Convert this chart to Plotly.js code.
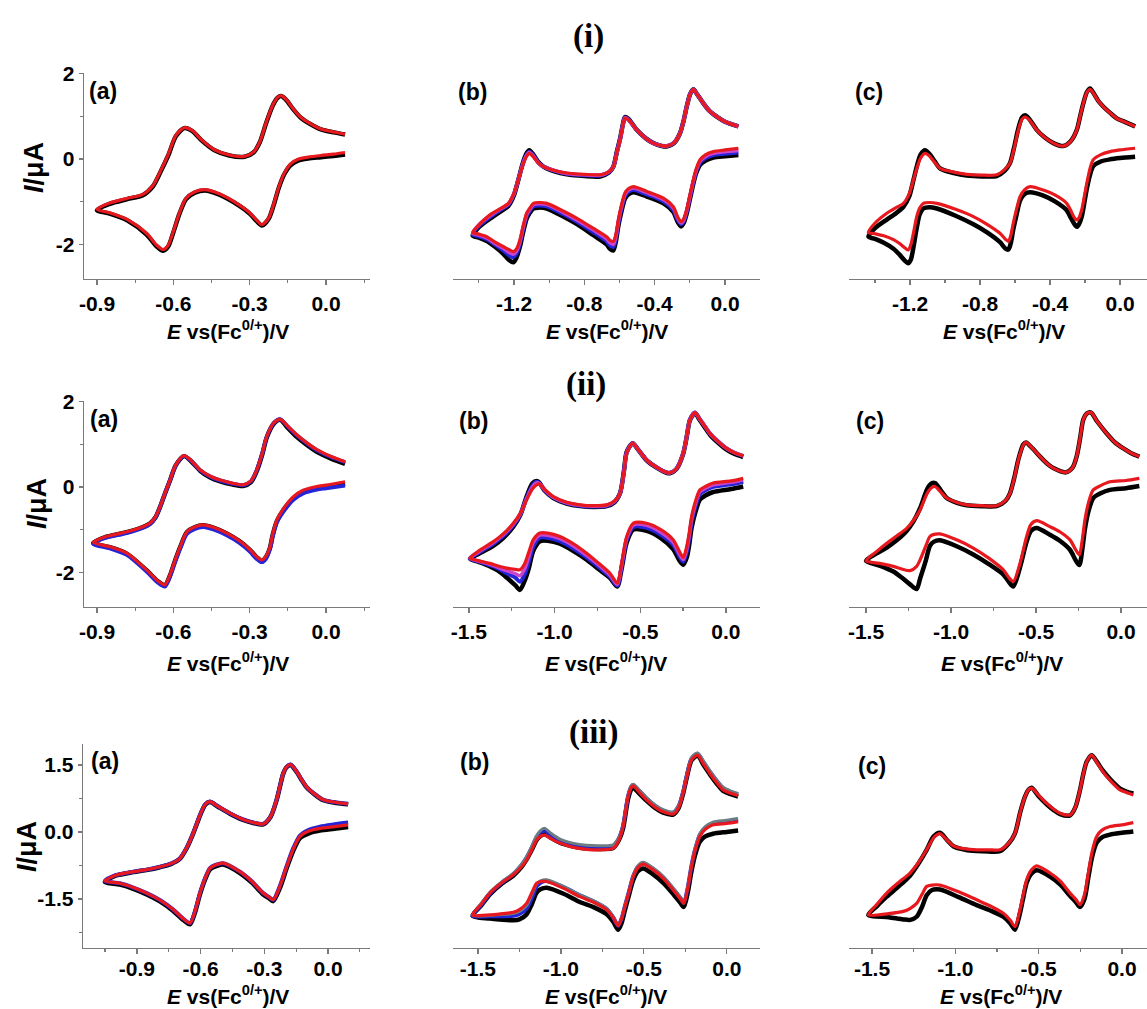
<!DOCTYPE html>
<html><head><meta charset="utf-8">
<script src="https://cdn.plot.ly/plotly-3.0.1.min.js"></script>
<style>html,body{margin:0;padding:0;background:#fff}#chart{width:1147px;height:1009px}</style>
</head><body><div id="chart"></div>
<script>
// ---------------- DATA (E in V vs Fc0/+, I in uA), path: reverse (lower) branch right->left, then forward (upper) branch left->right
// Row (i)
const E_ia = [0.075,0.03,-0.02,-0.07,-0.11,-0.14,-0.165,-0.185,-0.205,-0.225,-0.252,-0.275,-0.30,-0.34,-0.39,-0.44,-0.475,-0.515,-0.55,-0.575,-0.60,-0.62,-0.64,-0.665,-0.705,-0.78,-0.85,-0.90,
  -0.85,-0.78,-0.72,-0.68,-0.65,-0.62,-0.59,-0.557,-0.525,-0.49,-0.44,-0.38,-0.32,-0.285,-0.26,-0.235,-0.21,-0.19,-0.176,-0.155,-0.13,-0.10,-0.06,-0.02,0.03,0.075];
const I_ia_red = [0.15,0.11,0.08,0.04,-0.01,-0.12,-0.35,-0.65,-1.05,-1.38,-1.54,-1.42,-1.26,-1.08,-0.90,-0.77,-0.72,-0.77,-0.92,-1.25,-1.70,-2.02,-2.12,-2.02,-1.74,-1.42,-1.26,-1.18,
  -1.03,-0.92,-0.83,-0.62,-0.28,0.10,0.55,0.73,0.66,0.45,0.22,0.09,0.06,0.16,0.40,0.85,1.25,1.44,1.48,1.38,1.18,0.98,0.82,0.70,0.63,0.58];
const I_ia_black = [0.10,0.07,0.04,0.01,-0.04,-0.15,-0.37,-0.67,-1.07,-1.40,-1.56,-1.44,-1.28,-1.10,-0.92,-0.79,-0.74,-0.79,-0.94,-1.27,-1.72,-2.05,-2.15,-2.05,-1.77,-1.44,-1.28,-1.20,
  -1.05,-0.94,-0.85,-0.64,-0.30,0.08,0.53,0.72,0.65,0.44,0.21,0.08,0.05,0.15,0.39,0.84,1.24,1.43,1.47,1.37,1.17,0.97,0.81,0.69,0.62,0.57];

const E_ib = [0.076,0.0,-0.066,-0.11,-0.142,-0.165,-0.18,-0.20,-0.218,-0.235,-0.25,-0.27,-0.294,-0.35,-0.445,-0.521,-0.55,-0.569,-0.59,-0.607,-0.62,-0.635,-0.655,-0.673,-0.75,-0.825,-0.92,-1.014,-1.06,-1.09,-1.11,-1.128,-1.15,-1.166,-1.185,-1.204,-1.23,-1.261,-1.31,-1.355,-1.40,-1.435,
  -1.40,-1.337,-1.28,-1.232,-1.20,-1.176,-1.15,-1.13,-1.113,-1.09,-1.06,-1.033,-0.97,-0.90,-0.80,-0.71,-0.66,-0.635,-0.615,-0.597,-0.58,-0.569,-0.55,-0.502,-0.45,-0.408,-0.36,-0.331,-0.29,-0.256,-0.235,-0.218,-0.198,-0.18,-0.16,-0.123,-0.09,-0.047,0.0,0.076];
const I_ib_red = [0.25,0.21,0.17,0.10,-0.02,-0.25,-0.49,-0.85,-1.19,-1.40,-1.47,-1.35,-1.12,-0.92,-0.76,-0.65,-0.70,-0.80,-1.10,-1.43,-1.75,-1.93,-1.90,-1.82,-1.62,-1.43,-1.22,-1.04,-1.02,-1.04,-1.15,-1.27,-1.60,-1.89,-2.10,-2.17,-2.12,-2.05,-1.94,-1.82,-1.76,-1.72,
  -1.55,-1.31,-1.17,-1.04,-0.80,-0.49,-0.15,0.05,0.13,0.05,-0.10,-0.18,-0.27,-0.33,-0.36,-0.37,-0.30,-0.18,0.15,0.44,0.80,0.95,0.92,0.68,0.48,0.37,0.31,0.30,0.38,0.60,0.90,1.22,1.52,1.63,1.52,1.30,1.13,0.99,0.87,0.76];
const I_ib_magenta = [0.20,0.17,0.13,0.06,-0.05,-0.28,-0.51,-0.88,-1.21,-1.43,-1.50,-1.38,-1.15,-0.95,-0.79,-0.68,-0.73,-0.83,-1.14,-1.47,-1.80,-2.00,-1.96,-1.87,-1.66,-1.47,-1.25,-1.07,-1.05,-1.07,-1.18,-1.30,-1.64,-1.93,-2.15,-2.23,-2.18,-2.09,-1.97,-1.85,-1.78,-1.74,
  -1.54,-1.33,-1.18,-1.05,-0.81,-0.49,-0.13,0.07,0.15,0.06,-0.10,-0.18,-0.27,-0.34,-0.37,-0.38,-0.30,-0.18,0.15,0.45,0.81,0.96,0.92,0.68,0.48,0.37,0.31,0.30,0.38,0.60,0.90,1.22,1.52,1.63,1.52,1.30,1.13,0.99,0.87,0.76];
const I_ib_blue = [0.15,0.12,0.09,0.02,-0.09,-0.31,-0.54,-0.91,-1.24,-1.46,-1.53,-1.42,-1.19,-0.99,-0.83,-0.72,-0.77,-0.87,-1.18,-1.52,-1.85,-2.06,-2.02,-1.93,-1.71,-1.51,-1.29,-1.11,-1.09,-1.11,-1.21,-1.34,-1.68,-1.98,-2.21,-2.30,-2.25,-2.14,-2.00,-1.88,-1.81,-1.77,
  -1.57,-1.36,-1.20,-1.07,-0.82,-0.49,-0.12,0.09,0.17,0.08,-0.09,-0.18,-0.28,-0.35,-0.38,-0.39,-0.31,-0.18,0.16,0.46,0.82,0.97,0.93,0.68,0.48,0.37,0.31,0.30,0.38,0.60,0.90,1.22,1.52,1.63,1.52,1.30,1.13,0.99,0.87,0.76];
const I_ib_black = [0.09,0.06,0.03,-0.04,-0.14,-0.35,-0.58,-0.95,-1.28,-1.50,-1.58,-1.47,-1.24,-1.04,-0.88,-0.78,-0.83,-0.93,-1.25,-1.58,-1.92,-2.14,-2.10,-2.00,-1.78,-1.57,-1.35,-1.16,-1.14,-1.16,-1.26,-1.40,-1.75,-2.05,-2.30,-2.42,-2.36,-2.22,-2.05,-1.92,-1.84,-1.80,
  -1.60,-1.40,-1.24,-1.10,-0.85,-0.50,-0.10,0.12,0.20,0.10,-0.08,-0.18,-0.29,-0.36,-0.40,-0.41,-0.32,-0.18,0.17,0.47,0.83,0.98,0.94,0.68,0.48,0.37,0.30,0.29,0.37,0.60,0.90,1.22,1.52,1.63,1.52,1.30,1.13,0.99,0.87,0.76];

const E_ic = [0.086,0.0,-0.057,-0.11,-0.153,-0.17,-0.19,-0.205,-0.219,-0.235,-0.247,-0.265,-0.285,-0.305,-0.37,-0.438,-0.514,-0.545,-0.571,-0.59,-0.61,-0.625,-0.638,-0.655,-0.686,-0.76,-0.838,-0.94,-1.047,-1.09,-1.124,-1.145,-1.162,-1.18,-1.195,-1.21,-1.23,-1.26,-1.295,-1.35,-1.40,-1.438,
  -1.40,-1.333,-1.28,-1.238,-1.205,-1.181,-1.16,-1.14,-1.114,-1.09,-1.06,-1.029,-0.95,-0.876,-0.79,-0.705,-0.66,-0.629,-0.605,-0.581,-0.56,-0.543,-0.52,-0.476,-0.43,-0.381,-0.324,-0.285,-0.247,-0.228,-0.21,-0.19,-0.171,-0.15,-0.125,-0.095,-0.055,-0.019,0.03,0.086];
const I_ic_red = [0.25,0.21,0.17,0.10,-0.02,-0.20,-0.57,-0.90,-1.19,-1.38,-1.43,-1.35,-1.18,-1.04,-0.85,-0.73,-0.65,-0.72,-0.88,-1.15,-1.50,-1.80,-1.93,-1.88,-1.74,-1.53,-1.35,-1.18,-1.04,-1.02,-1.04,-1.15,-1.35,-1.72,-2.00,-2.13,-2.08,-1.98,-1.89,-1.80,-1.75,-1.72,
  -1.50,-1.27,-1.14,-1.04,-0.82,-0.49,-0.20,0.02,0.13,0.07,-0.08,-0.22,-0.31,-0.36,-0.38,-0.37,-0.25,-0.10,0.25,0.68,0.93,0.98,0.92,0.68,0.50,0.37,0.30,0.40,0.68,1.00,1.30,1.55,1.63,1.52,1.36,1.22,1.07,0.95,0.86,0.76];
const I_ic_black = [0.05,0.02,-0.01,-0.06,-0.17,-0.35,-0.70,-1.05,-1.35,-1.53,-1.59,-1.50,-1.35,-1.20,-1.00,-0.86,-0.78,-0.82,-0.97,-1.28,-1.65,-1.98,-2.12,-2.10,-1.95,-1.72,-1.53,-1.33,-1.16,-1.13,-1.16,-1.30,-1.62,-2.05,-2.35,-2.44,-2.38,-2.24,-2.10,-1.96,-1.87,-1.82,
  -1.62,-1.42,-1.27,-1.12,-0.88,-0.50,-0.15,0.10,0.20,0.12,-0.05,-0.22,-0.33,-0.39,-0.41,-0.40,-0.28,-0.10,0.28,0.72,0.97,1.02,0.94,0.68,0.50,0.37,0.30,0.40,0.68,1.00,1.30,1.56,1.65,1.53,1.36,1.22,1.07,0.95,0.86,0.76];

// Row (ii)
const E_iia = [0.075,0.0,-0.036,-0.09,-0.128,-0.16,-0.193,-0.21,-0.22,-0.236,-0.252,-0.275,-0.298,-0.34,-0.39,-0.44,-0.482,-0.515,-0.547,-0.57,-0.593,-0.613,-0.633,-0.66,-0.705,-0.783,-0.85,-0.915,
  -0.87,-0.783,-0.72,-0.692,-0.67,-0.652,-0.633,-0.613,-0.59,-0.558,-0.53,-0.495,-0.455,-0.416,-0.37,-0.325,-0.295,-0.272,-0.25,-0.233,-0.205,-0.18,-0.15,-0.115,-0.075,-0.036,0.02,0.075];
const I_iia_red = [0.12,0.04,0.01,-0.08,-0.23,-0.45,-0.77,-1.12,-1.40,-1.62,-1.71,-1.62,-1.47,-1.26,-1.08,-0.95,-0.89,-0.93,-1.05,-1.35,-1.71,-2.05,-2.29,-2.20,-1.94,-1.55,-1.40,-1.30,
  -1.17,-1.05,-0.93,-0.85,-0.70,-0.46,-0.15,0.16,0.52,0.73,0.62,0.40,0.25,0.16,0.09,0.05,0.14,0.40,0.80,1.18,1.50,1.58,1.42,1.22,1.03,0.87,0.71,0.59];
const I_iia_blue = [0.03,-0.03,-0.06,-0.15,-0.30,-0.52,-0.83,-1.18,-1.45,-1.68,-1.76,-1.67,-1.52,-1.31,-1.13,-1.00,-0.94,-0.98,-1.10,-1.40,-1.76,-2.10,-2.33,-2.24,-1.98,-1.59,-1.44,-1.33,
  -1.20,-1.08,-0.96,-0.87,-0.72,-0.47,-0.16,0.15,0.51,0.72,0.61,0.39,0.24,0.15,0.08,0.04,0.13,0.39,0.79,1.17,1.49,1.58,1.41,1.21,1.02,0.86,0.70,0.58];
const I_iia_black = [0.08,0.0,-0.03,-0.12,-0.27,-0.48,-0.80,-1.14,-1.42,-1.64,-1.73,-1.63,-1.48,-1.27,-1.09,-0.96,-0.90,-0.94,-1.06,-1.36,-1.72,-2.07,-2.30,-2.21,-1.95,-1.56,-1.41,-1.31,
  -1.18,-1.06,-0.94,-0.86,-0.71,-0.47,-0.16,0.15,0.51,0.72,0.60,0.38,0.22,0.13,0.06,0.02,0.11,0.37,0.77,1.15,1.48,1.57,1.38,1.17,0.98,0.82,0.66,0.54];

const E_iib = [0.101,0.03,-0.074,-0.12,-0.152,-0.175,-0.2,-0.215,-0.229,-0.249,-0.27,-0.307,-0.38,-0.463,-0.54,-0.579,-0.609,-0.634,-0.677,-0.75,-0.813,-0.89,-0.969,-1.04,-1.086,-1.125,-1.15,-1.175,-1.202,-1.23,-1.28,-1.33,-1.377,-1.44,-1.494,
  -1.44,-1.358,-1.30,-1.241,-1.20,-1.163,-1.13,-1.105,-1.089,-1.06,-1.007,-0.93,-0.852,-0.77,-0.696,-0.65,-0.618,-0.595,-0.579,-0.544,-0.51,-0.463,-0.40,-0.346,-0.327,-0.29,-0.249,-0.228,-0.21,-0.181,-0.155,-0.125,-0.093,-0.045,0.004,0.05,0.101];
const I_iib_red = [0.20,0.14,0.09,0.01,-0.07,-0.30,-0.69,-1.10,-1.40,-1.65,-1.52,-1.24,-1.00,-0.85,-0.85,-1.16,-1.79,-2.25,-2.02,-1.76,-1.55,-1.33,-1.16,-1.08,-1.08,-1.24,-1.52,-1.80,-1.94,-1.93,-1.90,-1.85,-1.79,-1.73,-1.67,
  -1.49,-1.28,-1.10,-0.85,-0.62,-0.30,-0.05,0.05,0.07,-0.05,-0.23,-0.36,-0.42,-0.44,-0.42,-0.33,-0.15,0.35,0.79,1.02,0.86,0.63,0.45,0.34,0.33,0.42,0.79,1.20,1.57,1.74,1.60,1.43,1.25,1.06,0.90,0.80,0.73];
const I_iib_magenta = [0.17,0.11,0.05,-0.03,-0.11,-0.35,-0.75,-1.16,-1.46,-1.70,-1.58,-1.30,-1.06,-0.90,-0.89,-1.20,-1.83,-2.28,-2.06,-1.80,-1.60,-1.38,-1.21,-1.13,-1.13,-1.30,-1.62,-1.92,-2.08,-2.03,-1.96,-1.88,-1.81,-1.74,-1.67,
  -1.51,-1.30,-1.12,-0.87,-0.63,-0.28,-0.01,0.09,0.08,-0.06,-0.24,-0.37,-0.43,-0.45,-0.43,-0.34,-0.15,0.36,0.80,1.02,0.86,0.63,0.45,0.34,0.33,0.42,0.79,1.20,1.57,1.74,1.60,1.43,1.25,1.06,0.90,0.80,0.73];
const I_iib_blue = [0.12,0.06,0.0,-0.08,-0.17,-0.42,-0.82,-1.23,-1.53,-1.75,-1.64,-1.36,-1.12,-0.96,-0.94,-1.24,-1.87,-2.31,-2.10,-1.85,-1.65,-1.44,-1.27,-1.19,-1.19,-1.40,-1.75,-2.05,-2.22,-2.12,-2.02,-1.91,-1.83,-1.75,-1.68,
  -1.53,-1.33,-1.15,-0.90,-0.64,-0.25,0.03,0.12,0.09,-0.07,-0.25,-0.38,-0.44,-0.46,-0.44,-0.35,-0.15,0.37,0.81,1.02,0.86,0.63,0.45,0.34,0.33,0.42,0.79,1.20,1.57,1.74,1.60,1.43,1.25,1.06,0.90,0.80,0.72];
const I_iib_black = [0.01,-0.05,-0.12,-0.20,-0.30,-0.55,-0.95,-1.38,-1.66,-1.82,-1.73,-1.46,-1.20,-1.03,-1.00,-1.30,-1.92,-2.33,-2.13,-1.90,-1.70,-1.50,-1.33,-1.26,-1.27,-1.50,-1.90,-2.20,-2.41,-2.30,-2.12,-1.96,-1.86,-1.76,-1.68,
  -1.56,-1.38,-1.20,-0.93,-0.66,-0.22,0.08,0.14,0.10,-0.08,-0.26,-0.39,-0.45,-0.47,-0.45,-0.36,-0.15,0.38,0.82,1.02,0.86,0.62,0.44,0.33,0.32,0.41,0.78,1.19,1.56,1.73,1.58,1.40,1.22,1.03,0.87,0.77,0.70];

const E_iic = [0.108,0.03,-0.065,-0.12,-0.163,-0.19,-0.212,-0.228,-0.245,-0.265,-0.3,-0.36,-0.418,-0.496,-0.53,-0.555,-0.594,-0.633,-0.66,-0.692,-0.78,-0.869,-0.96,-1.065,-1.1,-1.124,-1.15,-1.182,-1.202,-1.241,-1.29,-1.339,-1.42,-1.5,
  -1.44,-1.378,-1.32,-1.261,-1.22,-1.182,-1.14,-1.115,-1.094,-1.06,-1.025,-0.96,-0.908,-0.82,-0.731,-0.68,-0.653,-0.625,-0.604,-0.575,-0.559,-0.52,-0.476,-0.43,-0.398,-0.325,-0.285,-0.261,-0.24,-0.222,-0.2,-0.176,-0.14,-0.084,-0.035,0.014,0.06,0.108];
const I_iic_red = [0.20,0.15,0.12,0.03,-0.07,-0.35,-0.77,-1.25,-1.59,-1.48,-1.24,-1.05,-0.93,-0.79,-0.88,-1.16,-1.79,-2.21,-2.12,-1.94,-1.66,-1.43,-1.25,-1.10,-1.11,-1.16,-1.40,-1.71,-1.86,-1.96,-1.92,-1.86,-1.79,-1.73,
  -1.52,-1.32,-1.15,-0.97,-0.78,-0.54,-0.15,-0.02,0.01,-0.12,-0.26,-0.37,-0.42,-0.44,-0.44,-0.32,-0.15,0.25,0.63,0.98,1.04,0.90,0.71,0.53,0.44,0.34,0.45,0.71,1.15,1.57,1.72,1.74,1.53,1.25,1.04,0.90,0.79,0.71];
const I_iic_black = [0.02,-0.03,-0.07,-0.15,-0.26,-0.55,-0.98,-1.48,-1.83,-1.73,-1.47,-1.26,-1.12,-0.96,-1.03,-1.28,-1.88,-2.33,-2.22,-2.05,-1.80,-1.58,-1.40,-1.25,-1.28,-1.38,-1.75,-2.15,-2.39,-2.28,-2.12,-1.98,-1.84,-1.73,
  -1.56,-1.42,-1.25,-1.03,-0.80,-0.50,-0.05,0.08,0.09,-0.08,-0.26,-0.38,-0.43,-0.45,-0.45,-0.33,-0.15,0.26,0.64,0.99,1.04,0.90,0.71,0.53,0.44,0.34,0.45,0.71,1.15,1.57,1.72,1.74,1.53,1.25,1.04,0.90,0.79,0.71];

// Row (iii)
const E_iiia = [0.095,0.03,-0.038,-0.09,-0.132,-0.165,-0.195,-0.225,-0.258,-0.28,-0.305,-0.36,-0.415,-0.494,-0.53,-0.556,-0.58,-0.603,-0.628,-0.65,-0.68,-0.729,-0.79,-0.854,-0.92,-0.98,-1.051,
  -1.0,-0.917,-0.85,-0.792,-0.74,-0.697,-0.665,-0.635,-0.605,-0.578,-0.556,-0.52,-0.462,-0.40,-0.352,-0.305,-0.27,-0.242,-0.225,-0.211,-0.195,-0.176,-0.15,-0.125,-0.101,-0.06,-0.022,0.04,0.095];
const I_iiia_red = [0.16,0.12,0.08,0.02,-0.10,-0.40,-0.78,-1.20,-1.52,-1.45,-1.37,-1.10,-0.89,-0.70,-0.74,-0.81,-1.05,-1.37,-1.80,-2.04,-1.95,-1.74,-1.53,-1.37,-1.24,-1.15,-1.10,
  -0.97,-0.89,-0.84,-0.78,-0.71,-0.59,-0.35,-0.03,0.35,0.62,0.68,0.58,0.42,0.28,0.21,0.18,0.35,0.72,1.05,1.31,1.46,1.51,1.37,1.18,1.01,0.84,0.72,0.66,0.63];
const I_iiia_blue = [0.21,0.17,0.12,0.05,-0.08,-0.38,-0.77,-1.19,-1.52,-1.45,-1.37,-1.10,-0.89,-0.70,-0.74,-0.81,-1.05,-1.37,-1.80,-2.04,-1.95,-1.74,-1.53,-1.37,-1.24,-1.15,-1.10,
  -0.97,-0.89,-0.84,-0.78,-0.71,-0.59,-0.35,-0.03,0.35,0.62,0.68,0.58,0.42,0.28,0.21,0.18,0.35,0.72,1.05,1.31,1.46,1.51,1.37,1.18,1.01,0.84,0.72,0.66,0.63];
const I_iiia_black = [0.11,0.07,0.03,-0.03,-0.14,-0.44,-0.82,-1.24,-1.55,-1.48,-1.40,-1.13,-0.92,-0.73,-0.77,-0.84,-1.08,-1.40,-1.83,-2.07,-1.98,-1.77,-1.56,-1.40,-1.27,-1.18,-1.12,
  -0.98,-0.90,-0.85,-0.79,-0.72,-0.60,-0.36,-0.04,0.34,0.61,0.67,0.57,0.41,0.27,0.20,0.17,0.34,0.71,1.04,1.30,1.45,1.50,1.36,1.17,1.00,0.83,0.71,0.65,0.62];

const E_iiib = [0.068,0.0,-0.083,-0.13,-0.163,-0.19,-0.213,-0.235,-0.259,-0.28,-0.323,-0.38,-0.444,-0.504,-0.535,-0.564,-0.59,-0.614,-0.635,-0.655,-0.685,-0.725,-0.80,-0.886,-0.98,-1.086,-1.12,-1.146,-1.175,-1.207,-1.25,-1.287,-1.35,-1.428,-1.532,
  -1.48,-1.428,-1.36,-1.287,-1.24,-1.207,-1.175,-1.146,-1.12,-1.096,-1.06,-1.006,-0.93,-0.845,-0.76,-0.685,-0.65,-0.625,-0.595,-0.575,-0.564,-0.53,-0.484,-0.43,-0.384,-0.323,-0.29,-0.263,-0.24,-0.213,-0.177,-0.14,-0.102,-0.06,-0.022,0.02,0.068];
const I_iiib_red = [0.23,0.19,0.16,0.06,-0.10,-0.40,-0.78,-1.25,-1.60,-1.50,-1.30,-1.05,-0.85,-0.72,-0.80,-1.00,-1.35,-1.67,-1.95,-2.10,-1.92,-1.74,-1.58,-1.45,-1.27,-1.11,-1.11,-1.15,-1.36,-1.60,-1.74,-1.80,-1.83,-1.86,-1.86,
  -1.62,-1.37,-1.15,-0.96,-0.79,-0.63,-0.40,-0.18,-0.09,-0.07,-0.15,-0.25,-0.34,-0.39,-0.40,-0.37,-0.18,0.12,0.79,1.00,1.03,0.90,0.72,0.55,0.45,0.40,0.55,0.87,1.25,1.61,1.72,1.52,1.31,1.10,0.94,0.87,0.81];
const I_iiib_gray = [0.30,0.26,0.22,0.12,-0.04,-0.35,-0.74,-1.22,-1.57,-1.46,-1.26,-1.01,-0.81,-0.68,-0.76,-0.97,-1.33,-1.65,-1.94,-2.09,-1.90,-1.71,-1.55,-1.41,-1.23,-1.07,-1.09,-1.16,-1.40,-1.65,-1.78,-1.83,-1.85,-1.87,-1.87,
  -1.60,-1.35,-1.13,-0.93,-0.74,-0.56,-0.32,-0.08,0.04,0.08,-0.03,-0.16,-0.25,-0.30,-0.31,-0.29,-0.12,0.16,0.82,1.04,1.07,0.95,0.77,0.60,0.50,0.45,0.60,0.92,1.30,1.66,1.77,1.58,1.37,1.16,1.00,0.92,0.86];
const I_iiib_blue = [0.27,0.23,0.19,0.09,-0.07,-0.38,-0.76,-1.24,-1.59,-1.48,-1.28,-1.03,-0.83,-0.70,-0.78,-0.99,-1.34,-1.66,-1.95,-2.10,-1.91,-1.72,-1.56,-1.42,-1.24,-1.10,-1.13,-1.22,-1.48,-1.72,-1.84,-1.88,-1.89,-1.89,-1.88,
  -1.63,-1.38,-1.15,-0.95,-0.76,-0.58,-0.35,-0.12,0.00,0.03,-0.07,-0.19,-0.28,-0.33,-0.34,-0.32,-0.14,0.14,0.80,1.02,1.05,0.93,0.75,0.58,0.48,0.43,0.58,0.90,1.28,1.64,1.75,1.56,1.35,1.14,0.98,0.90,0.84];
const I_iiib_black = [0.03,0.00,-0.04,-0.10,-0.22,-0.50,-0.88,-1.35,-1.68,-1.59,-1.39,-1.15,-0.95,-0.82,-0.88,-1.08,-1.42,-1.75,-2.05,-2.19,-2.01,-1.84,-1.69,-1.57,-1.39,-1.25,-1.28,-1.36,-1.62,-1.85,-1.96,-1.98,-1.97,-1.94,-1.88,
  -1.65,-1.40,-1.17,-0.98,-0.80,-0.62,-0.40,-0.18,-0.08,-0.05,-0.13,-0.24,-0.32,-0.37,-0.38,-0.36,-0.18,0.08,0.74,0.96,0.99,0.87,0.70,0.53,0.43,0.39,0.54,0.86,1.24,1.60,1.71,1.50,1.29,1.08,0.92,0.85,0.79];

const E_iiic = [0.068,0.0,-0.072,-0.12,-0.152,-0.18,-0.202,-0.225,-0.252,-0.275,-0.312,-0.37,-0.432,-0.512,-0.545,-0.572,-0.595,-0.612,-0.642,-0.67,-0.712,-0.79,-0.872,-0.98,-1.092,-1.14,-1.172,-1.2,-1.232,-1.27,-1.312,-1.4,-1.522,
  -1.47,-1.412,-1.34,-1.272,-1.22,-1.172,-1.13,-1.092,-1.05,-1.012,-0.94,-0.872,-0.8,-0.732,-0.68,-0.642,-0.61,-0.582,-0.56,-0.542,-0.5,-0.452,-0.41,-0.372,-0.312,-0.28,-0.252,-0.232,-0.212,-0.182,-0.15,-0.12,-0.092,-0.05,-0.012,0.03,0.068];
const I_iiic_red = [0.21,0.16,0.12,0.04,-0.10,-0.45,-0.92,-1.40,-1.63,-1.52,-1.37,-1.10,-0.92,-0.76,-0.86,-1.07,-1.45,-1.74,-2.12,-1.98,-1.82,-1.66,-1.52,-1.34,-1.19,-1.19,-1.22,-1.40,-1.60,-1.71,-1.78,-1.83,-1.86,
  -1.62,-1.37,-1.13,-0.92,-0.68,-0.40,-0.13,-0.04,-0.18,-0.31,-0.38,-0.40,-0.40,-0.40,-0.25,-0.03,0.45,0.79,0.95,0.98,0.82,0.64,0.51,0.42,0.38,0.55,0.94,1.30,1.57,1.72,1.55,1.38,1.24,1.07,0.94,0.88,0.83];
const I_iiic_black = [0.01,-0.02,-0.06,-0.12,-0.24,-0.57,-1.02,-1.50,-1.68,-1.58,-1.43,-1.18,-1.00,-0.86,-0.94,-1.14,-1.52,-1.82,-2.19,-2.05,-1.90,-1.76,-1.64,-1.46,-1.29,-1.30,-1.42,-1.68,-1.90,-1.97,-1.96,-1.91,-1.86,
  -1.66,-1.45,-1.22,-0.98,-0.70,-0.40,-0.10,-0.02,-0.18,-0.32,-0.40,-0.43,-0.44,-0.43,-0.26,-0.03,0.45,0.79,0.95,0.99,0.80,0.62,0.49,0.40,0.37,0.55,0.94,1.30,1.57,1.72,1.57,1.40,1.27,1.10,0.97,0.90,0.86];

// Tick labels
const xTicksA = [-0.9, -0.6, -0.3, 0.0];
const xTickTextA = ["-0.9", "-0.6", "-0.3", "0.0"];
const xMinorA = [-0.75, -0.45, -0.15, 0.15];
const xMinorA3 = [-1.05, -0.75, -0.45, -0.15, 0.15];
const xTicksB1 = [-1.2, -0.8, -0.4, 0.0];
const xTickTextB1 = ["-1.2", "-0.8", "-0.4", "0.0"];
const xMinorB1 = [-1.4, -1.0, -0.6, -0.2];
const xTicksB2 = [-1.5, -1.0, -0.5, 0.0];
const xTickTextB2 = ["-1.5", "-1.0", "-0.5", "0.0"];
const xMinorB2 = [-1.25, -0.75, -0.25];
const yTicks12 = [-2, 0, 2];
const yTickText12 = ["-2", "0", "2"];
const yMinor12 = [-1, 1];
const yTicks3 = [-1.5, 0.0, 1.5];
const yTickText3 = ["-1.5", "0.0", "1.5"];
const yMinor3 = [-2.25, -0.75, 0.75];
const panelLabels = ["(a)", "(b)", "(c)"];
const sectionTitles = ["(i)", "(ii)", "(iii)"];
const xTitle = "<b><i>E</i> vs(Fc<sup>0/+</sup>)/V</b>";
const yTitle = "<b><i>I</i>/\u03bcA</b>";

// ---------------- LAYOUT / STYLE
const W = 1147, H = 1009;
const COL = {black:'#000000', blue:'#2424d8', magenta:'#cc44cc', gray:'#6b7d83', red:'#e8191e'};
const WID = {black:4.5, blue:4, magenta:3.6, gray:3.0, red:3.2};

const panels = [
  {E:E_ia, c:[['black',I_ia_black],['red',I_ia_red]], px:[84,370], py:[73,279], xr:[-0.951,0.173], yr:[-2.81,2.01], xt:[xTicksA,xTickTextA,xMinorA], yt:[yTicks12,yTickText12,yMinor12]},
  {E:E_ib, c:[['black',I_ib_black],['blue',I_ib_blue],['magenta',I_ib_magenta],['red',I_ib_red]], px:[453,760], py:[73,279], xr:[-1.547,0.199], yr:[-2.81,2.01], xt:[xTicksB1,xTickTextB1,xMinorB1]},
  {E:E_ic, c:[['black',I_ic_black],['red',I_ic_red]], px:[849,1147], py:[73,279], xr:[-1.549,0.154], yr:[-2.81,2.01], xt:[xTicksB1,xTickTextB1,xMinorB1]},
  {E:E_iia, c:[['black',I_iia_black],['blue',I_iia_blue],['red',I_iia_red]], px:[84,370], py:[401,607], xr:[-0.951,0.173], yr:[-2.81,2.01], xt:[xTicksA,xTickTextA,xMinorA], yt:[yTicks12,yTickText12,yMinor12]},
  {E:E_iib, c:[['black',I_iib_black],['blue',I_iib_blue],['magenta',I_iib_magenta],['red',I_iib_red]], px:[453,760], py:[401,607], xr:[-1.593,0.199], yr:[-2.81,2.01], xt:[xTicksB2,xTickTextB2,xMinorB2]},
  {E:E_iic, c:[['black',I_iic_black],['red',I_iic_red]], px:[849,1147], py:[401,607], xr:[-1.6,0.153], yr:[-2.81,2.01], xt:[xTicksB2,xTickTextB2,xMinorB2]},
  {E:E_iiia, c:[['black',I_iiia_black],['blue',I_iiia_blue],['red',I_iiia_red]], px:[83,370], py:[744,948], xr:[-1.154,0.198], yr:[-2.6,1.97], xt:[xTicksA,xTickTextA,xMinorA3], yt:[yTicks3,yTickText3,yMinor3], lift:true},
  {E:E_iiib, c:[['black',I_iiib_black],['blue',I_iiib_blue],['gray',I_iiib_gray],['red',I_iiib_red]], px:[453,760], py:[744,948], xr:[-1.65,0.2], yr:[-2.6,1.97], xt:[xTicksB2,xTickTextB2,xMinorB2], lift:true},
  {E:E_iiic, c:[['black',I_iiic_black],['red',I_iiic_red]], px:[849,1147], py:[744,948], xr:[-1.638,0.15], yr:[-2.6,1.97], xt:[xTicksB2,xTickTextB2,xMinorB2], lift:true}
];

const FONT = 'Arial, "Liberation Sans", sans-serif';
const SERIF = '"Times New Roman", "Liberation Serif", serif';
const AX = '#7a7a7a';
const TICKSIZE = 21;
const traces = [];
const layout = {
  width: W, height: H, margin:{l:0,r:0,t:0,b:0},
  paper_bgcolor:'#ffffff', plot_bgcolor:'rgba(0,0,0,0)', showlegend:false,
  font:{family:FONT, color:'#000'}, annotations:[]
};

panels.forEach((p, i) => {
  const s = i === 0 ? '' : String(i+1);
  p.c.forEach(([col, I]) => {
    traces.push({type:'scatter', mode:'lines', x:p.E, y:I, xaxis:'x'+s, yaxis:'y'+s,
      line:{color:COL[col], width:WID[col], shape:'spline', smoothing:0.75}, hoverinfo:'skip'});
  });
  layout['xaxis'+s] = {
    domain:[p.px[0]/W, p.px[1]/W], range:p.xr, anchor:'y'+s, fixedrange:true,
    showline:true, linecolor:AX, linewidth:1.3, showgrid:false, zeroline:false,
    ticks:'outside', ticklen:5, tickwidth:1.3, tickcolor:AX,
    tickmode:'array', tickvals:p.xt[0], ticktext:p.xt[1],
    ticklabelstandoff: p.lift ? -4 : 0,
    minor:{tickmode:'array', tickvals:p.xt[2], ticks:'outside', ticklen:3, tickwidth:1.2, tickcolor:AX, showgrid:false},
    tickfont:{family:FONT, size:TICKSIZE, color:'#000', weight:'bold'}
  };
  const ya = {domain:[1-p.py[1]/H, 1-p.py[0]/H], range:p.yr, anchor:'x'+s, fixedrange:true, showgrid:false, zeroline:false};
  if (p.yt) {
    Object.assign(ya, {showline:true, linecolor:AX, linewidth:1.3, ticks:'outside', ticklen:4, tickwidth:1.3, tickcolor:AX,
      tickmode:'array', tickvals:p.yt[0], ticktext:p.yt[1],
      minor:{tickmode:'array', tickvals:p.yt[2], ticks:'outside', ticklen:3, tickwidth:1.2, tickcolor:AX, showgrid:false},
      tickfont:{family:FONT, size:TICKSIZE, color:'#000', weight:'bold'}});
  } else {
    ya.visible = false;
  }
  layout['yaxis'+s] = ya;
});

function ann(text, x, y, size, family, extra) {
  layout.annotations.push(Object.assign({text:text, x:x/W, y:1-y/H, xref:'paper', yref:'paper',
    xanchor:'center', yanchor:'middle', showarrow:false, font:{family:family, size:size, color:'#000'}}, extra||{}));
}
// section titles
[[588,37],[586,384],[593,732]].forEach((pos,k)=>ann('<b>'+sectionTitles[k]+'</b>', pos[0], pos[1], 33, SERIF));
// panel labels
[[103,91],[472,92],[869,92],[104,419],[473,421],[870,421],[105,761],[474,762],[872,766]].forEach((pos,k)=>ann('<b>'+panelLabels[k%3]+'</b>', pos[0], pos[1], 23, FONT));
// x titles
[[228,330],[607,330],[1004,330],[228,662],[606,662],[1002,662],[228,995],[606,995],[1001,995]].forEach(pos=>ann(xTitle, pos[0], pos[1], 21, FONT));
// y titles
[[34,168],[37,504],[27,847]].forEach(pos=>ann(yTitle, pos[0], pos[1], 27, FONT, {textangle:-90}));

Plotly.newPlot('chart', traces, layout, {staticPlot:true, displayModeBar:false});
</script></body></html>
